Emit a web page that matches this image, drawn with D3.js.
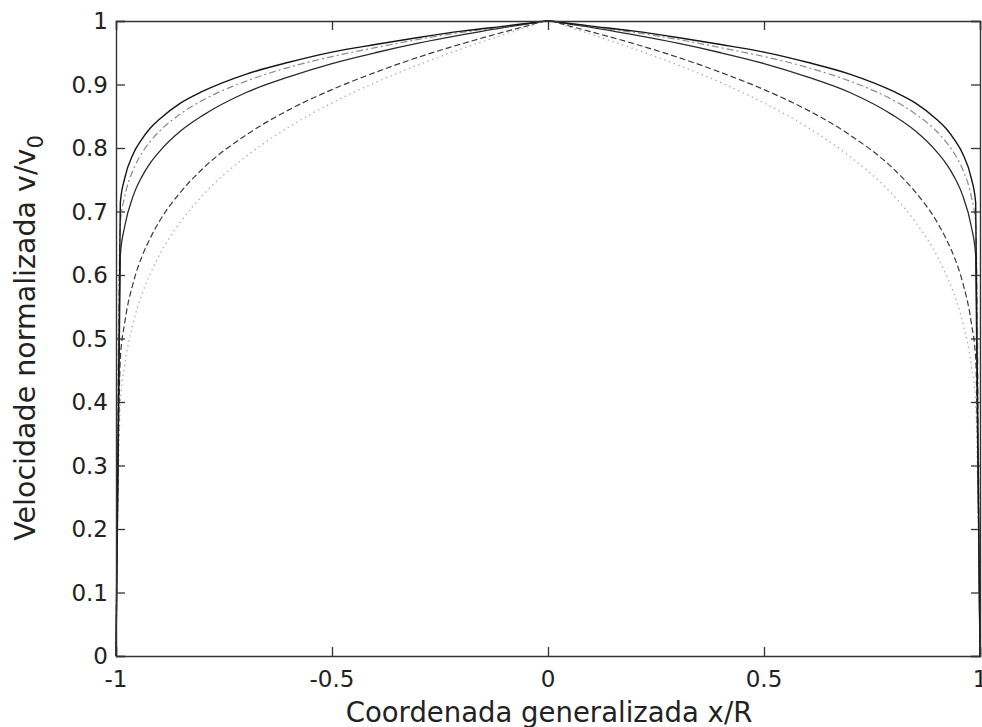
<!DOCTYPE html>
<html>
<head>
<meta charset="utf-8">
<script src="https://cdn.jsdelivr.net/npm/d3@7"></script>
<style>
  html, body { margin: 0; padding: 0; background: #fff; }
  svg { display: block; }
  text { font-family: "DejaVu Sans", sans-serif; fill: #222; }
</style>
</head>
<body>
<svg id="chart" width="982" height="727"></svg>
<script>
// Generalized coordinate x/R
const xValues = [-1, -0.99, -0.98, -0.96, -0.94, -0.92, -0.9, -0.85, -0.8, -0.7, -0.6, -0.5, -0.4, -0.3, -0.2, -0.1, -0.05, 0,
                 0.05, 0.1, 0.2, 0.3, 0.4, 0.5, 0.6, 0.7, 0.8, 0.85, 0.9, 0.92, 0.94, 0.96, 0.98, 0.99, 1];
// Normalized velocity v/v0 for each profile
const seriesA = [0, 0.714, 0.752, 0.791, 0.814, 0.832, 0.845, 0.871, 0.889, 0.916, 0.935, 0.951, 0.963, 0.974, 0.984, 0.992, 0.996, 1,
                 0.996, 0.992, 0.984, 0.974, 0.963, 0.951, 0.935, 0.916, 0.889, 0.871, 0.845, 0.832, 0.814, 0.791, 0.752, 0.714, 0];
const seriesB = [0, 0.682, 0.723, 0.766, 0.792, 0.811, 0.826, 0.854, 0.875, 0.905, 0.927, 0.944, 0.958, 0.971, 0.982, 0.991, 0.996, 1,
                 0.996, 0.991, 0.982, 0.971, 0.958, 0.944, 0.927, 0.905, 0.875, 0.854, 0.826, 0.811, 0.792, 0.766, 0.723, 0.682, 0];
const seriesC = [0, 0.631, 0.676, 0.725, 0.755, 0.777, 0.794, 0.827, 0.851, 0.887, 0.912, 0.933, 0.950, 0.965, 0.978, 0.990, 0.995, 1,
                 0.995, 0.990, 0.978, 0.965, 0.950, 0.933, 0.912, 0.887, 0.851, 0.827, 0.794, 0.777, 0.755, 0.725, 0.676, 0.631, 0];
const seriesD = [0, 0.468, 0.524, 0.588, 0.629, 0.659, 0.684, 0.731, 0.767, 0.820, 0.860, 0.892, 0.919, 0.943, 0.964, 0.983, 0.992, 1,
                 0.992, 0.983, 0.964, 0.943, 0.919, 0.892, 0.860, 0.820, 0.767, 0.731, 0.684, 0.659, 0.629, 0.588, 0.524, 0.468, 0];
const seriesE = [0, 0.398, 0.457, 0.525, 0.570, 0.603, 0.631, 0.684, 0.725, 0.786, 0.833, 0.871, 0.903, 0.931, 0.956, 0.979, 0.990, 1,
                 0.990, 0.979, 0.956, 0.931, 0.903, 0.871, 0.833, 0.786, 0.725, 0.684, 0.631, 0.603, 0.570, 0.525, 0.457, 0.398, 0];

const xTicks = [-1, -0.5, 0, 0.5, 1];
const xTickLabels = ["-1", "-0.5", "0", "0.5", "1"];
const yTicks = [0, 0.1, 0.2, 0.3, 0.4, 0.5, 0.6, 0.7, 0.8, 0.9, 1];
const yTickLabels = ["0", "0.1", "0.2", "0.3", "0.4", "0.5", "0.6", "0.7", "0.8", "0.9", "1"];

const xLabel = "Coordenada generalizada x/R";
const yLabelMain = "Velocidade normalizada v/v";
const yLabelSub = "0";

const L = 116, R = 980, T = 21, B = 656;
const svg = d3.select("#chart");
const x = d3.scaleLinear().domain([-1, 1]).range([L, R]);
const y = d3.scaleLinear().domain([0, 1]).range([B, T]);

const styles = [
  { data: seriesE, color: "#b0b0b0", width: 1.3, dash: "1.5,3.5" },
  { data: seriesD, color: "#3a3a3a", width: 1.2, dash: "6,3" },
  { data: seriesC, color: "#2a2a2a", width: 1.3, dash: null },
  { data: seriesB, color: "#8a8a8a", width: 1.2, dash: "7,3,2,3" },
  { data: seriesA, color: "#151515", width: 1.4, dash: null }
];

const line = d3.line()
  .x((d, i) => x(xValues[i]))
  .y(d => y(d))
  .curve(d3.curveMonotoneX);

styles.forEach(s => {
  svg.append("path")
    .attr("d", line(s.data))
    .attr("fill", "none")
    .attr("stroke", s.color)
    .attr("stroke-width", s.width)
    .attr("stroke-dasharray", s.dash);
});

// Axes (MATLAB style box with inward ticks)
const tickLen = 9;
const axisColor = "#333";
const gB = svg.append("g").attr("transform", `translate(0,${B})`)
  .call(d3.axisBottom(x).tickValues(xTicks).tickSize(-tickLen).tickFormat(""));
const gT = svg.append("g").attr("transform", `translate(0,${T})`)
  .call(d3.axisTop(x).tickValues(xTicks).tickSize(-tickLen).tickFormat(""));
const gL = svg.append("g").attr("transform", `translate(${L},0)`)
  .call(d3.axisLeft(y).tickValues(yTicks).tickSize(-tickLen).tickFormat(""));
const gR = svg.append("g").attr("transform", `translate(${R},0)`)
  .call(d3.axisRight(y).tickValues(yTicks).tickSize(-tickLen).tickFormat(""));
[gB, gT, gL, gR].forEach(g => {
  g.selectAll(".domain").attr("stroke", axisColor).attr("stroke-width", 1.4);
  g.selectAll(".tick line").attr("stroke", axisColor).attr("stroke-width", 1.3);
});

// Tick labels
svg.append("g").selectAll("text").data(xTicks).join("text")
  .attr("x", d => x(d))
  .attr("y", 687)
  .attr("text-anchor", "middle")
  .attr("font-size", 23)
  .text((d, i) => xTickLabels[i]);

svg.append("g").selectAll("text").data(yTicks).join("text")
  .attr("x", 108)
  .attr("y", d => y(d) + 8.3)
  .attr("text-anchor", "end")
  .attr("font-size", 23)
  .text((d, i) => yTickLabels[i]);

// Axis labels
svg.append("text")
  .attr("x", 549)
  .attr("y", 722)
  .attr("text-anchor", "middle")
  .attr("font-size", 27.5)
  .text(xLabel);

const yl = svg.append("text")
  .attr("transform", "translate(35,338) rotate(-90)")
  .attr("text-anchor", "middle")
  .attr("font-size", 28.5);
yl.append("tspan").text(yLabelMain);
yl.append("tspan").attr("font-size", 21).attr("dy", 8).text(yLabelSub);
</script>
</body>
</html>
